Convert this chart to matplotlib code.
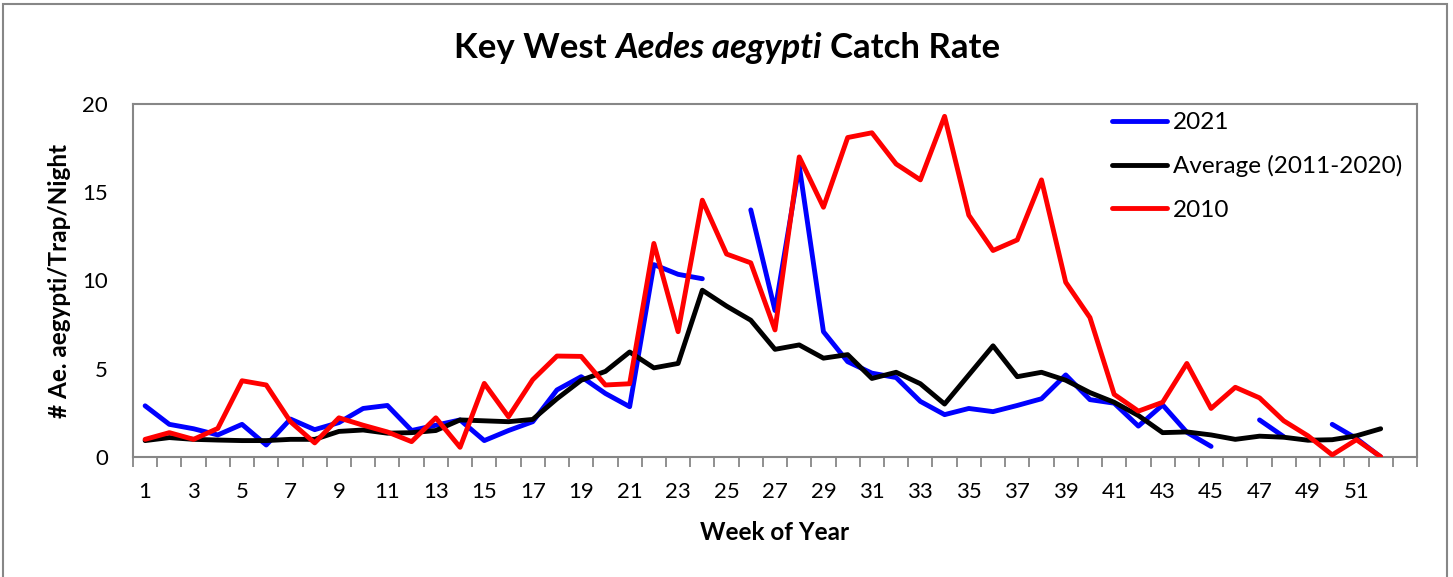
"""
Key West Aedes aegypti catch rate by week of year.
"""

import matplotlib
matplotlib.use("Agg")
import matplotlib.pyplot as plt
import numpy as np
from matplotlib.patches import Rectangle

nan = np.nan

weeks = list(range(1, 53))

rate_2021 = [2.9, 1.85, 1.6, 1.25, 1.85, 0.68, 2.15, 1.55, 1.95, 2.75,
             2.92, 1.5, 1.8, 2.1, 0.93, 1.5, 2.0, 3.8, 4.55, 3.6,
             2.85, 10.9, 10.35, 10.1, nan, 14.0, 8.3, 16.5, 7.1, 5.4,
             4.75, 4.5, 3.15, 2.4, 2.75, 2.57, 2.92, 3.3, 4.65, 3.25,
             3.05, 1.75, 2.95, 1.4, 0.6, nan, 2.1, 1.15, nan, 1.85,
             1.05, 0.0]

rate_avg = [0.93, 1.1, 1.0, 0.96, 0.93, 0.93, 1.0, 1.0, 1.45, 1.53,
            1.35, 1.38, 1.5, 2.1, 2.05, 2.0, 2.13, 3.3, 4.35, 4.85,
            5.95, 5.05, 5.3, 9.45, 8.55, 7.75, 6.1, 6.35, 5.6, 5.8,
            4.45, 4.8, 4.15, 3.0, 4.65, 6.3, 4.55, 4.8, 4.35, 3.65,
            3.1, 2.35, 1.38, 1.42, 1.25, 1.0, 1.18, 1.12, 0.95, 0.98,
            1.2, 1.6]

rate_2010 = [1.0, 1.38, 1.0, 1.62, 4.32, 4.08, 2.0, 0.8, 2.22, 1.8,
             1.42, 0.87, 2.22, 0.55, 4.17, 2.28, 4.38, 5.72, 5.7, 4.08,
             4.15, 12.1, 7.1, 14.55, 11.5, 11.0, 7.2, 17.0, 14.15, 18.1,
             18.37, 16.6, 15.7, 19.3, 13.7, 11.7, 12.3, 15.7, 9.9, 7.9,
             3.55, 2.6, 3.1, 5.3, 2.75, 3.95, 3.35, 2.05, 1.2, 0.12,
             0.98, 0.02]

week_labels = [str(w) for w in range(1, 52, 2)]
y_ticks = [0, 5, 10, 15, 20]

W, H = 1453, 577
FONT = "Lato"
GREY = "#878787"

plt.rcParams["font.family"] = [FONT, "DejaVu Sans"]

fig = plt.figure(figsize=(W / 100, H / 100), dpi=100)
fig.patch.set_facecolor("white")
ax = fig.add_axes([133 / W, 1 - 457 / H, (1417 - 133) / W, (457 - 104) / H])

line_kw = dict(linewidth=3.5, solid_capstyle="round", solid_joinstyle="round")
ax.plot(weeks, rate_2021, color="#0000FF", label="2021", zorder=2, **line_kw)
ax.plot(weeks, rate_avg, color="#000000", label="Average (2011-2020)", zorder=3, **line_kw)
ax.plot(weeks, rate_2010, color="#FF0000", label="2010", zorder=4, **line_kw)

# category axis: 53 slots, ticks on slot boundaries, labels on odd weeks
ax.set_xlim(0.5, 53.5)
ax.set_ylim(0, 20)
ax.set_xticks(np.arange(0.5, 54, 1))
ax.set_xticklabels([])
ax.set_xticks(range(1, 52, 2), minor=True)
ax.set_xticklabels(week_labels, minor=True, fontsize=16)
ax.tick_params(axis="x", which="major", direction="out", length=7, width=1.3, color=GREY)
ax.tick_params(axis="x", which="minor", length=0, pad=18)
ax.set_yticks(y_ticks)
ax.set_yticklabels([str(v) for v in y_ticks], fontsize=16)
ax.tick_params(axis="y", length=0, pad=18)

for spine in ax.spines.values():
    spine.set_edgecolor(GREY)
    spine.set_linewidth(1.5)

ax.set_xlabel("Week of Year", fontsize=17.5, fontweight="bold", labelpad=14)
ax.set_ylabel("# Ae. aegypti/Trap/Night", fontsize=17.5, fontweight="bold", labelpad=8)

leg = ax.legend(loc="upper left", bbox_to_anchor=(1112 / W, 1 - 112 / H),
                bbox_transform=fig.transFigure, frameon=False, fontsize=17.5,
                handlelength=2.25, handletextpad=0.25, labelspacing=0.92,
                borderpad=0, borderaxespad=0)
for h in leg.get_lines():
    h.set_linewidth(3.5)

# title with italic species name, assembled from pieces
fig.canvas.draw()
r = fig.canvas.get_renderer()
title_kw = dict(fontsize=25, fontweight="bold")
pieces = [("Key West", "normal"), ("Aedes aegypti", "italic"), ("Catch Rate", "normal")]


def text_w(s, **kw):
    t = fig.text(0, 0, s, **kw)
    w = t.get_window_extent(renderer=r).width
    t.remove()
    return w


gap = text_w("n n", **title_kw) - text_w("nn", **title_kw)
widths = [text_w(s, style=st, **title_kw) for s, st in pieces]
x = 727 - (sum(widths) + 2 * gap) / 2
for (s, st), w in zip(pieces, widths):
    fig.text(x / W, 1 - 58 / H, s, style=st, ha="left", va="baseline", **title_kw)
    x += w + gap

fig.patches.append(Rectangle((3 / W, -0.05), (1447 - 3) / W, 1.05 - 4 / H,
                             transform=fig.transFigure, fill=False,
                             edgecolor=GREY, linewidth=1.5))

fig.savefig("out.png", dpi=100)
